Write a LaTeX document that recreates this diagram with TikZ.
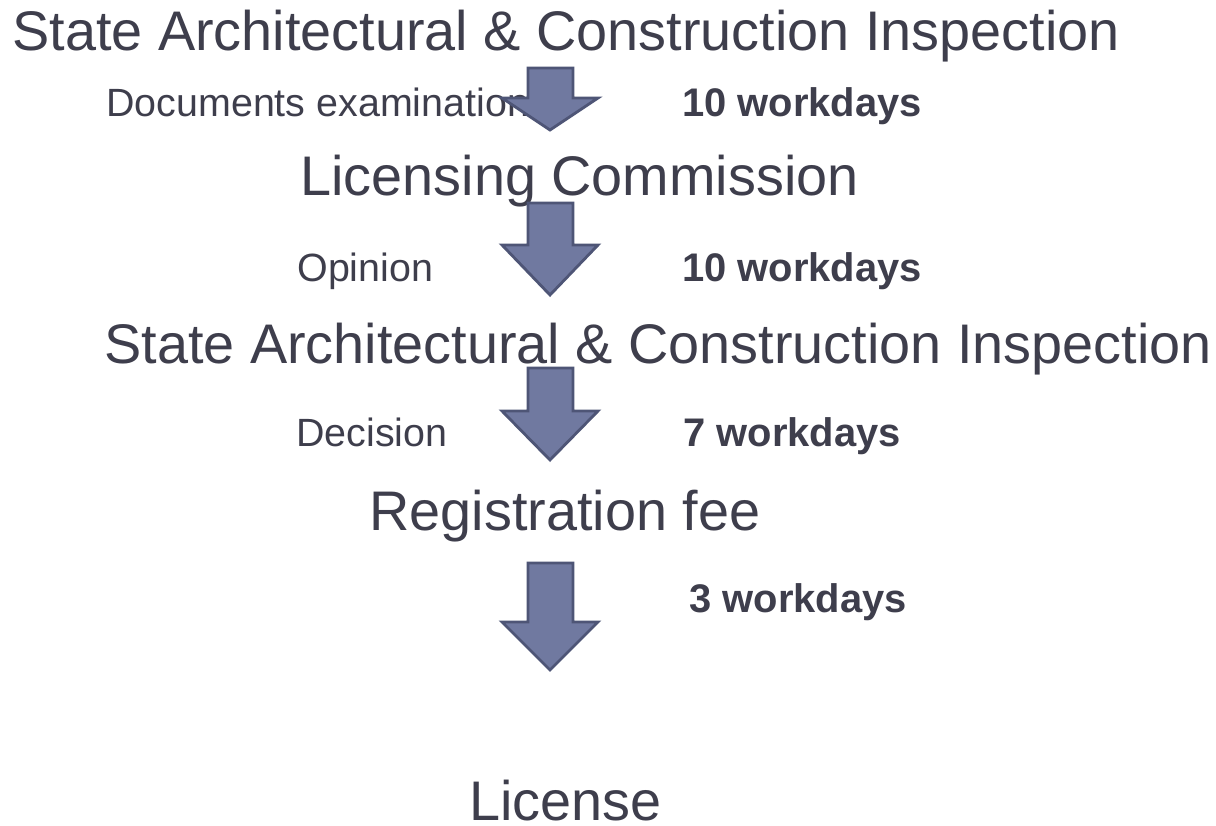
\documentclass[tikz,border=0pt]{standalone}
\usepackage{fontspec}
\setmainfont{Liberation Sans}
\definecolor{txtgray}{HTML}{3E3E4C}
\definecolor{arrowfill}{HTML}{7079A0}
\definecolor{arrowline}{HTML}{4E5576}

\begin{document}
\begin{tikzpicture}[x=0.5pt, y=-0.5pt,
    stage/.style={anchor=base west, inner sep=0pt, text=txtgray, font=\fontsize{27.9}{30}\selectfont},
    action/.style={anchor=base west, inner sep=0pt, text=txtgray, font=\fontsize{19.7}{22}\selectfont},
    days/.style={action, font=\fontsize{19.95}{22}\selectfont\bfseries},
    blockarrow/.style={fill=arrowfill, draw=arrowline, line width=1.4pt, line join=miter}]
    \useasboundingbox[fill=white] (0,0) rectangle (1216,825);
    % Stages
    \node[stage] (inspA)   at (12,50)  {State Architectural \& Construction Inspection};
    \node[stage] (commis)  at (300,195) {Licensing Commission};
    \node[stage] (inspB)   at (104,363) {State Architectural \& Construction Inspection};
    \node[stage] (fee)     at (369,530) {Registration fee};
    \node[stage] (license) at (469,820) {License};

    % Actions and terms
    \node[action] (docs)     at (106,116) {Documents examination};
    \node[days]   (daysdocs) at (682,116) {10 workdays};
    \node[action] (opinion)  at (297,281) {Opinion};
    \node[days]   (daysop)   at (682,281) {10 workdays};
    \node[action] (decision) at (296,446) {Decision};
    \node[days]   (daysdec)  at (683,446) {7 workdays};
    \node[days]   (daysfee)  at (689,612) {3 workdays};

    % Block arrows
    \foreach \top/\wing/\tip in {68/98/130, 203/245/295, 368/411/460, 563/622/670}
      \draw[blockarrow] (528,\top) -- (573,\top) -- (573,\wing) -- (598,\wing)
        -- (550,\tip) -- (502,\wing) -- (528,\wing) -- cycle;
\end{tikzpicture}
\end{document}
